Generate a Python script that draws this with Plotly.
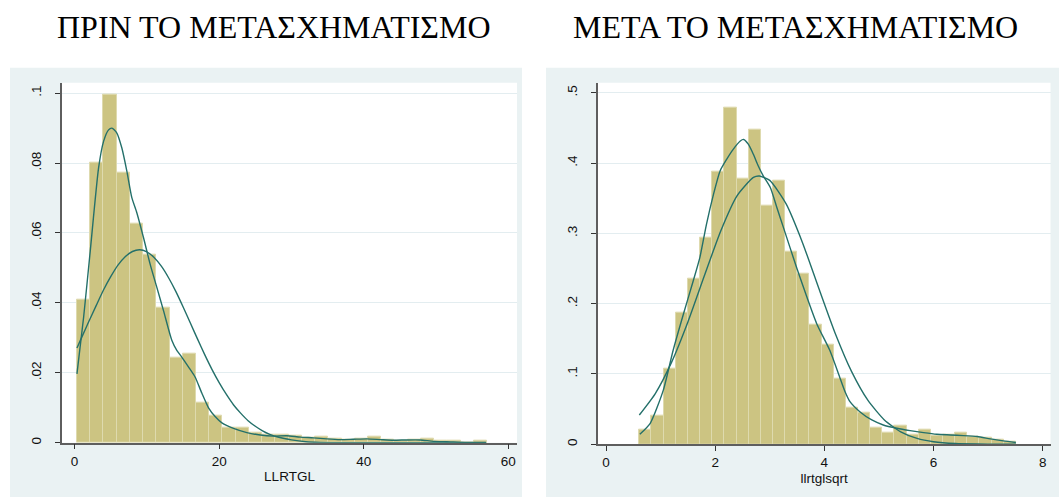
import plotly.graph_objects as go

# ---------------- data ----------------
titles = ["ΠΡΙΝ ΤΟ ΜΕΤΑΣΧΗΜΑΤΙΣΜΟ", "ΜΕΤΑ ΤΟ ΜΕΤΑΣΧΗΜΑΤΙΣΜΟ"]
x_titles = ["LLRTGL", "llrtglsqrt"]

# left histogram (LLRTGL): bin start, bin width, densities
left_bin_start = 0.33
left_bin_width = 1.83
left_density = [0.0409, 0.0802, 0.0995, 0.0772, 0.0627, 0.0537, 0.0387, 0.0243, 0.0255, 0.0115,
                0.0076, 0.0043, 0.0043, 0.0028, 0.0024, 0.0022, 0.0020, 0.0014, 0.0018, 0.0012,
                0.0010, 0.0012, 0.0017, 0.0010, 0.0007, 0.0010, 0.0012, 0.0006, 0.0005, 0.0001, 0.0005]

left_normal_x = [0.33, 1, 2, 3, 4, 5, 6, 7, 8, 9, 10, 11, 12, 13, 14, 15, 16, 17, 18, 19, 20, 21,
                 22, 23, 24, 25, 26, 27, 28, 29, 30, 32, 34, 37, 40, 45, 50, 56.96]
left_normal_y = [0.0271, 0.0302, 0.0348, 0.0393, 0.0437, 0.0475, 0.0508, 0.0532, 0.0547, 0.0552,
                 0.0546, 0.0530, 0.0505, 0.0472, 0.0433, 0.0389, 0.0343, 0.0297, 0.0252, 0.0210,
                 0.0172, 0.0138, 0.0108, 0.0084, 0.0063, 0.0047, 0.0034, 0.0024, 0.0017, 0.0012,
                 0.0008, 0.0003, 0.0001, 0.0, 0.0, 0.0, 0.0, 0.0]

left_kernel_x = [0.33, 1.25, 2.17, 3.32, 4.01, 4.7, 5.16, 5.85, 6.54, 7.23, 7.92, 8.61, 9.53, 10.45,
                 11.37, 12.3, 13.45, 14.14, 14.83, 15.75, 16.67, 17.6, 18.53, 19.44, 20.38, 21.99,
                 23.83, 25.68, 27.52, 29.36, 31.21, 33.05, 34.89, 36.74, 38.58, 40.42, 42.27, 44.11,
                 45.95, 47.8, 49.64, 51.48, 54.25, 56.9]
left_kernel_y = [0.0197, 0.0359, 0.0549, 0.0786, 0.0862, 0.0895, 0.0900, 0.0886, 0.0843, 0.0777,
                 0.0701, 0.0658, 0.0587, 0.0511, 0.0445, 0.0378, 0.0293, 0.0264, 0.0245, 0.0217,
                 0.0188, 0.0142, 0.0100, 0.0075, 0.0057, 0.0041, 0.0029, 0.0022, 0.0019, 0.0020,
                 0.0016, 0.0014, 0.0011, 0.0009, 0.0010, 0.0011, 0.0009, 0.0007, 0.0008, 0.0008,
                 0.0004, 0.0003, 0.0001, 0.0001]

# right histogram (llrtglsqrt)
right_bin_start = 0.61
right_bin_width = 0.2226
right_density = [0.0203, 0.0411, 0.1078, 0.1871, 0.2358, 0.2944, 0.3885, 0.4787, 0.3781, 0.4475,
                 0.3398, 0.3748, 0.2736, 0.2429, 0.1701, 0.1418, 0.0936, 0.0520, 0.0454, 0.0241,
                 0.0170, 0.0269, 0.0130, 0.0208, 0.0118, 0.0132, 0.0170, 0.0109, 0.0095, 0.0071, 0.0035]

right_normal_x = [0.61, 0.9, 1.2, 1.5, 1.8, 2.1, 2.4, 2.7, 2.81, 3.0, 3.3, 3.6, 3.9, 4.2, 4.5, 4.8,
                  5.1, 5.4, 5.7, 6.0, 6.4, 6.8, 7.2, 7.51]
right_normal_y = [0.0416, 0.0718, 0.1165, 0.1740, 0.2393, 0.3032, 0.3535, 0.3797, 0.3818, 0.3755,
                  0.3420, 0.2869, 0.2216, 0.1576, 0.1033, 0.0623, 0.0346, 0.0177, 0.0083, 0.0036,
                  0.0010, 0.0003, 0.0001, 0.0000]

right_kernel_x = [0.62, 0.81, 1.05, 1.23, 1.42, 1.60, 1.72, 1.84, 1.97, 2.09, 2.21, 2.33, 2.46, 2.52,
                  2.61, 2.70, 2.79, 2.88, 3.01, 3.13, 3.25, 3.37, 3.49, 3.68, 3.86, 4.10, 4.29, 4.38,
                  4.47, 4.65, 4.87, 5.08, 5.33, 5.57, 5.82, 6.06, 6.31, 6.55, 6.80, 7.04, 7.28, 7.51]
right_kernel_y = [0.0142, 0.0298, 0.0770, 0.1337, 0.1857, 0.2330, 0.2660, 0.3130, 0.3560, 0.3890,
                  0.4055, 0.4197, 0.4315, 0.4338, 0.4267, 0.4126, 0.3960, 0.3820, 0.3653, 0.3370,
                  0.3086, 0.2802, 0.2519, 0.2094, 0.1716, 0.1337, 0.0936, 0.0747, 0.0605, 0.0463,
                  0.0345, 0.0274, 0.0227, 0.0194, 0.0165, 0.0142, 0.0132, 0.0123, 0.0109, 0.0076,
                  0.0047, 0.0024]

left_xticks = [0, 20, 40, 60]
left_yticks = [0, 0.02, 0.04, 0.06, 0.08, 0.1]
left_yticktext = ["0", ".02", ".04", ".06", ".08", ".1"]
right_xticks = [0, 2, 4, 6, 8]
right_yticks = [0, 0.1, 0.2, 0.3, 0.4, 0.5]
right_yticktext = ["0", ".1", ".2", ".3", ".4", ".5"]

# ---------------- styling ----------------
W, H = 1059, 500
BAR_FILL = "#CCC482"
BAR_LINE = "#DEDAAE"
CURVE = "#24706A"
BG = "#EAF2F3"
GRID = "#E3EDF0"
AXIS = "#5E5E5E"
FONT = "Liberation Sans, Arial, sans-serif"


def px(x):
    return x / W


def py(y):
    return 1 - y / H


def centers(start, width, n):
    return [start + width * (i + 0.5) for i in range(n)]


fig = go.Figure()

panels = [
    dict(xa="x", ya="y", start=left_bin_start, width=left_bin_width, dens=left_density,
         nx=left_normal_x, ny=left_normal_y, kx=left_kernel_x, ky=left_kernel_y),
    dict(xa="x2", ya="y2", start=right_bin_start, width=right_bin_width, dens=right_density,
         nx=right_normal_x, ny=right_normal_y, kx=right_kernel_x, ky=right_kernel_y),
]

for p in panels:
    n = len(p["dens"])
    fig.add_trace(go.Bar(
        x=centers(p["start"], p["width"], n), y=p["dens"], width=[p["width"]] * n,
        marker=dict(color=BAR_FILL, line=dict(color=BAR_LINE, width=1)),
        xaxis=p["xa"], yaxis=p["ya"], showlegend=False, hoverinfo="skip"))
    for cx, cy in ((p["nx"], p["ny"]), (p["kx"], p["ky"])):
        fig.add_trace(go.Scatter(
            x=cx, y=cy, mode="lines",
            line=dict(color=CURVE, width=1.4, shape="spline", smoothing=0.6),
            xaxis=p["xa"], yaxis=p["ya"], showlegend=False, hoverinfo="skip"))

# plot area pixel boxes
L = dict(x0=62, x1=517, y0=83, y1=444.5)
R = dict(x0=598, x1=1050.5, y0=83, y1=446)

shapes = [
    dict(type="rect", xref="paper", yref="paper", x0=px(10), x1=px(522), y0=py(499), y1=py(68),
         fillcolor=BG, line=dict(width=0), layer="below"),
    dict(type="rect", xref="paper", yref="paper", x0=px(546), x1=px(1059), y0=py(499), y1=py(68),
         fillcolor=BG, line=dict(width=0), layer="below"),
    dict(type="rect", xref="paper", yref="paper", x0=px(L["x0"]), x1=px(L["x1"]), y0=py(L["y1"]), y1=py(L["y0"]),
         fillcolor="white", line=dict(width=0), layer="below"),
    dict(type="rect", xref="paper", yref="paper", x0=px(R["x0"]), x1=px(R["x1"]), y0=py(R["y1"]), y1=py(R["y0"]),
         fillcolor="white", line=dict(width=0), layer="below"),
]

tickfont = dict(family=FONT, size=13.5, color="#111")
common_x = dict(ticks="outside", ticklen=5, tickwidth=1, tickcolor="#333", showline=True,
                linecolor=AXIS, linewidth=1.5, showgrid=False, zeroline=False,
                tickfont=tickfont, fixedrange=True)
common_y = dict(ticks="outside", ticklen=5, tickwidth=1, tickcolor="#333", showline=True,
                linecolor=AXIS, linewidth=1.5, showgrid=True, gridcolor=GRID, gridwidth=1,
                zeroline=False, tickangle=-90, tickfont=tickfont, fixedrange=True,
                ticklabelstandoff=9)

fig.update_layout(
    width=W, height=H,
    margin=dict(l=0, r=0, t=0, b=0),
    paper_bgcolor="white",
    plot_bgcolor="rgba(0,0,0,0)",
    bargap=0,
    barmode="overlay",
    hovermode=False,
    shapes=shapes,
    xaxis=dict(domain=[px(L["x0"]), px(L["x1"])], range=[-1.74, 61.2], tickvals=left_xticks,
               anchor="y", title=dict(text=x_titles[0], font=tickfont, standoff=4), **common_x),
    yaxis=dict(domain=[py(L["y1"]), py(L["y0"])], range=[0, 0.103], tickvals=left_yticks,
               ticktext=left_yticktext, anchor="x", **common_y),
    xaxis2=dict(domain=[px(R["x0"]), px(R["x1"])], range=[-0.147, 8.144], tickvals=right_xticks,
                anchor="y2", title=dict(text=x_titles[1], font=tickfont, standoff=4), **common_x),
    yaxis2=dict(domain=[py(R["y1"]), py(R["y0"])], range=[0, 0.5146], tickvals=right_yticks,
                ticktext=right_yticktext, anchor="x2", **common_y),
    annotations=[
        dict(text=titles[0], x=px(273.5), y=py(27), xref="paper", yref="paper",
             xanchor="center", yanchor="middle", showarrow=False,
             font=dict(family="Liberation Serif, Times New Roman, serif", size=32, color="black")),
        dict(text=titles[1], x=px(795.6), y=py(27), xref="paper", yref="paper",
             xanchor="center", yanchor="middle", showarrow=False,
             font=dict(family="Liberation Serif, Times New Roman, serif", size=32, color="black")),
    ],
)

fig.write_html("out.html", config={"displayModeBar": False},
               post_script="document.body.style.margin='0';document.body.style.overflow='hidden';")
